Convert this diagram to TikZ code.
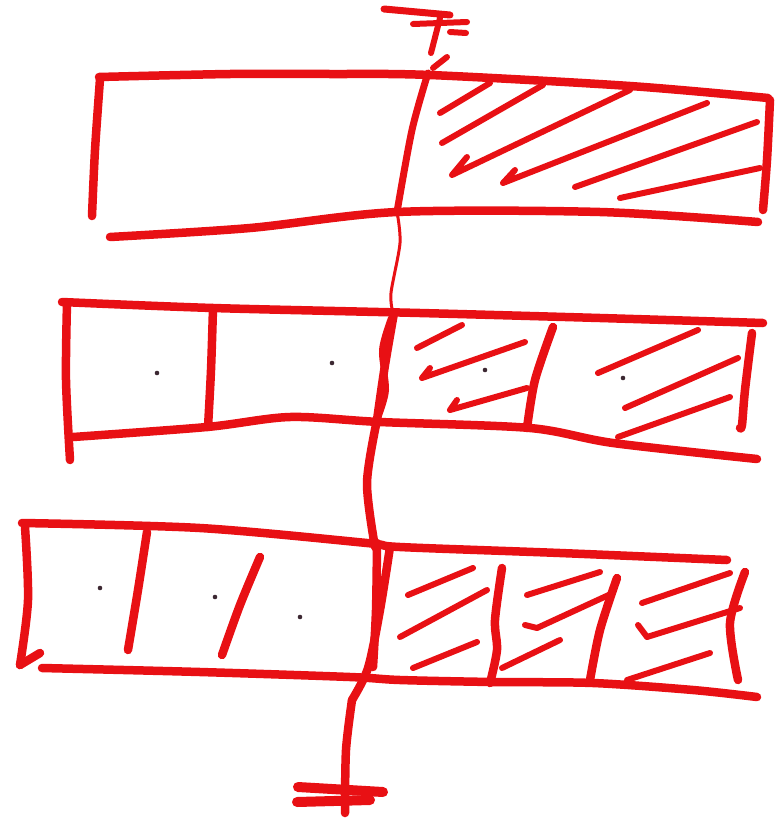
\documentclass[tikz,border=0pt]{standalone}
\definecolor{pen}{RGB}{232,16,20}
\definecolor{ink}{RGB}{60,40,50}
\begin{document}
\begin{tikzpicture}[x=1pt,y=-1pt,
  every path/.style={line cap=round,line join=round},
  thick stroke/.style={draw=pen,line width=8.5pt},
  hatch/.style={draw=pen,line width=6pt},
  thin stroke/.style={draw=pen,line width=3pt},
  dotmark/.style={fill=ink}]
\useasboundingbox (0,0) rectangle (777,825);

% ---------- top symbol ----------
\draw[hatch,line width=7pt] (384,9) -- (450,15);
\draw[hatch] (413,24) -- (467,22);
\draw[hatch] (450,32) -- (466,33);
\draw[hatch] (440,18) -- (431,53);
\draw[hatch] (447,57) -- (433,68);

% ---------- top box ----------
\draw[thick stroke] plot[smooth] coordinates {(99,77) (230,74) (330,74) (430,75) (630,86) (768,98)};
\draw[thick stroke] plot[smooth] coordinates {(100,79) (95,150) (92,216)};
\draw[thick stroke] plot[smooth] coordinates {(110,237) (250,228) (397,212) (600,212) (758,222)};
\draw[thick stroke] plot[smooth] coordinates {(770,100) (767,160) (763,210)};
\draw[hatch,line width=7pt] plot[smooth] coordinates {(428,73) (412,130) (397,212)};
% hatching
\draw[hatch] (440,113) -- (490,83);
\draw[hatch] (442,143) -- (543,85);
\draw[hatch] (467,157) -- (452,175) -- (630,90);
\draw[hatch] (515,170) -- (503,183) -- (707,103);
\draw[hatch] (575,187) -- (757,122);
\draw[hatch] (620,198) -- (760,168);

% ---------- axis, top to middle ----------
\draw[thin stroke] plot[smooth] coordinates {(397,212) (400,243) (391,293) (393,313)};

% ---------- middle box ----------
\draw[thick stroke] plot[smooth] coordinates {(62,302) (213,308) (420,313) (600,318) (763,323)};
\draw[thick stroke] plot[smooth] coordinates {(67,303) (66,380) (70,460)};
\draw[thick stroke] plot[smooth] coordinates {(73,437) (207,427) (290,417) (380,422) (530,428) (613,443) (757,459)};
\draw[thick stroke] plot[smooth] coordinates {(213,308) (211,370) (208,427)};
\draw[thick stroke] plot[smooth] coordinates {(394,313) (385,365) (377,420)};
\draw[hatch] plot[smooth] coordinates {(391,318) (382,350) (386,390) (378,418)};
\draw[thick stroke] plot[smooth] coordinates {(553,327) (535,380) (527,428)};
\draw[thick stroke] plot[smooth] coordinates {(752,333) (745,390) (742,425) (740,428)};
% dots
\fill[dotmark] (157,373) circle (2.3);
\fill[dotmark] (332,363) circle (2.3);
\fill[dotmark] (485,370) circle (2.3);
\fill[dotmark] (623,378) circle (2.3);
% hatching
\draw[hatch] (417,348) -- (462,325);
\draw[hatch] (430,368) -- (422,378) -- (525,342);
\draw[hatch] (457,400) -- (450,410) -- (527,388);
\draw[hatch] (598,373) -- (698,330);
\draw[hatch] (625,408) -- (738,358);
\draw[hatch] (618,437) -- (730,397);

% ---------- axis, middle to bottom ----------
\draw[thick stroke] plot[smooth] coordinates {(377,420) (367,483) (375,547)};

% ---------- bottom box ----------
\draw[thick stroke] plot[smooth] coordinates {(22,523) (200,528) (367,543) (400,547) (560,553) (727,560)};
\draw[thick stroke] plot[smooth] coordinates {(25,527) (28,600) (20,665)};
\draw[thick stroke] (20,665) -- (40,653);
\draw[thick stroke] plot[smooth] coordinates {(42,668) (200,672) (350,677) (400,680) (493,682) (593,683) (693,690) (757,697)};
\draw[thick stroke] plot[smooth] coordinates {(147,532) (138,590) (128,650)};
\draw[thick stroke] plot[smooth] coordinates {(260,557) (240,605) (222,655)};
\draw[thick stroke] plot[smooth] coordinates {(377,543) (376,610) (373,667)};
\draw[thick stroke] plot[smooth] coordinates {(390,547) (380,610) (368,668) (352,700)};
\draw[thick stroke] plot[smooth] coordinates {(502,568) (495,620) (497,650) (490,683)};
\draw[thick stroke] plot[smooth] coordinates {(617,578) (600,630) (590,680)};
\draw[thick stroke] plot[smooth] coordinates {(745,572) (730,623) (738,680)};
% dots
\fill[dotmark] (100,588) circle (2.3);
\fill[dotmark] (215,597) circle (2.3);
\fill[dotmark] (300,617) circle (2.3);
% hatching
\draw[hatch] (408,595) -- (473,568);
\draw[hatch] (400,637) -- (487,590);
\draw[hatch] (413,668) -- (477,642);
\draw[hatch] (527,595) -- (600,572);
\draw[hatch] (525,625) -- (537,628) -- (613,593);
\draw[hatch] (502,668) -- (560,640);
\draw[hatch] (642,603) -- (730,573);
\draw[hatch] (638,625) -- (647,637) -- (740,608);
\draw[hatch] (627,680) -- (710,653);

% ---------- axis, bottom ----------
\draw[thick stroke] plot[smooth] coordinates {(352,700) (346,750) (345,813)};

% ---------- bottom symbol ----------
\draw[thick stroke,line width=10pt] (298,787) -- (383,792);
\draw[thick stroke,line width=10pt] (297,802) -- (370,800);
\end{tikzpicture}
\end{document}
